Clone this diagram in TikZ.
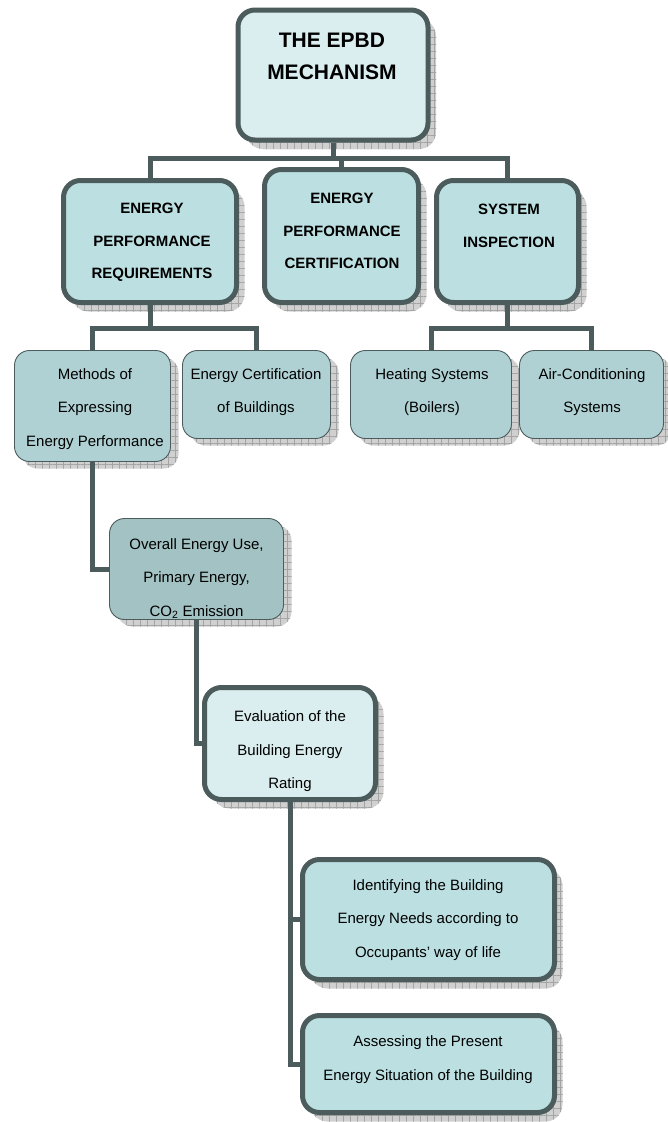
\documentclass[tikz,border=0pt]{standalone}
\usepackage{fontspec}
\setmainfont{Liberation Sans}
\usetikzlibrary{shadows,patterns.meta}
\definecolor{edge}{HTML}{4C5C5C}
\definecolor{topfill}{HTML}{DAEDEF}
\definecolor{midfill}{HTML}{BCE0E2}
\definecolor{lowfill}{HTML}{AFD1D3}
\definecolor{darkfill}{HTML}{A3C2C3}
\definecolor{shadowgray}{HTML}{D0D0D0}
\definecolor{gridgray}{HTML}{A4A4A4}
\tikzset{
  shad/.style 2 args={general shadow={shadow xshift=#1, shadow yshift=-#2, fill=shadowgray, draw=none,
     postaction={pattern={Hatch[distance=7pt,line width=0.5pt]}, pattern color=gridgray}}},
  bigbox/.style={draw=edge, line width=5pt, rounded corners=17pt, shad={8pt}{9pt}, inner sep=0pt},
  smallbox/.style={draw=edge, line width=0.9pt, rounded corners=15pt, shad={8pt}{7pt}, fill=lowfill, inner sep=0pt},
  ttl/.style={font=\fontsize{21}{32}\selectfont\bfseries, align=center, inner sep=0pt},
  hdr/.style={font=\fontsize{15}{32.5}\selectfont\bfseries, align=center, inner sep=0pt},
  txt/.style={font=\fontsize{15}{33.5}\selectfont, align=center, inner sep=0pt},
  conn/.style={draw=edge, line width=5pt}
}
\begin{document}
\begin{tikzpicture}[x=1pt,y=-1pt]
\useasboundingbox (0,0) rectangle (667,1122);
\fill[white] (0,0) rectangle (667,1122);

% boxes
\node[bigbox, fill=topfill, minimum width=190pt, minimum height=130pt] (top) at (333,75) {};
\node[bigbox, fill=midfill, minimum width=173pt, minimum height=122pt] (req) at (150,241.5) {};
\node[bigbox, fill=midfill, minimum width=154pt, minimum height=133pt] (cert) at (341.5,236) {};
\node[bigbox, fill=midfill, minimum width=142pt, minimum height=122pt] (insp) at (507.5,241.5) {};

\node[smallbox, minimum width=156pt, minimum height=111pt] (meth) at (92.5,406) {};
\node[smallbox, minimum width=148pt, minimum height=88pt] (ecb) at (256.5,394.5) {};
\node[smallbox, minimum width=161pt, minimum height=88pt] (heat) at (431,394.5) {};
\node[smallbox, minimum width=144pt, minimum height=88pt] (air) at (591.5,394.5) {};

\node[smallbox, fill=darkfill, minimum width=174pt, minimum height=101pt] (over) at (196.5,569) {};
\node[bigbox, fill=topfill, minimum width=171pt, minimum height=112pt] (eval) at (290,743.5) {};
\node[bigbox, fill=midfill, minimum width=252pt, minimum height=120pt] (ident) at (428.5,919.5) {};
\node[bigbox, fill=midfill, minimum width=252pt, minimum height=97pt] (asse) at (428.5,1064) {};

% connectors
\coordinate (bar1) at (0,158);
\coordinate (bar2) at (0,328);
\draw[conn] (top.south) -- (top.south |- bar1);
\draw[conn] (req.north) -- (req.north |- bar1) -- (insp.north |- bar1) -- (insp.north);
\draw[conn] (cert.north) -- (cert.north |- bar1);
\draw[conn] (req.south) -- (req.south |- bar2);
\draw[conn] (meth.north) -- (meth.north |- bar2) -- (ecb.north |- bar2) -- (ecb.north);
\draw[conn] (insp.south) -- (insp.south |- bar2);
\draw[conn] (heat.north) -- (heat.north |- bar2) -- (air.north |- bar2) -- (air.north);
\draw[conn] (meth.south) |- (over.west);
\draw[conn] (over.south) |- (eval.west);
\draw[conn] (eval.south) |- (ident.west);
\draw[conn] (eval.south) |- (asse.west);

% texts
\node[ttl] (topT) at (332,56) {THE EPBD\\MECHANISM};
\node[hdr] (reqT) at (152,242.5) {ENERGY\\PERFORMANCE\\REQUIREMENTS};
\node[hdr] (certT) at (342,231) {ENERGY\\PERFORMANCE\\CERTIFICATION};
\node[hdr] (inspT) at (509,226) {SYSTEM\\INSPECTION};
\node[txt] (methT) at (95,409) {Methods of\\Expressing\\Energy Performance};
\node[txt] (ecbT) at (256,392) {Energy Certification\\of Buildings};
\node[txt] (heatT) at (432,392) {Heating Systems\\(Boilers)};
\node[txt] (airT) at (592,392) {Air-Conditioning\\Systems};
\node[txt] (overT) at (196.5,578.5) {Overall Energy Use,\\Primary Energy,\\CO\textsubscript{2} Emission};
\node[txt] (evalT) at (290,751.5) {Evaluation of the\\Building Energy\\Rating};
\node[txt] (identT) at (428,920) {Identifying the Building\\Energy Needs according to\\Occupants’ way of life};
\node[txt] (asseT) at (428,1059.5) {Assessing the Present\\Energy Situation of the Building};
\end{tikzpicture}
\end{document}
